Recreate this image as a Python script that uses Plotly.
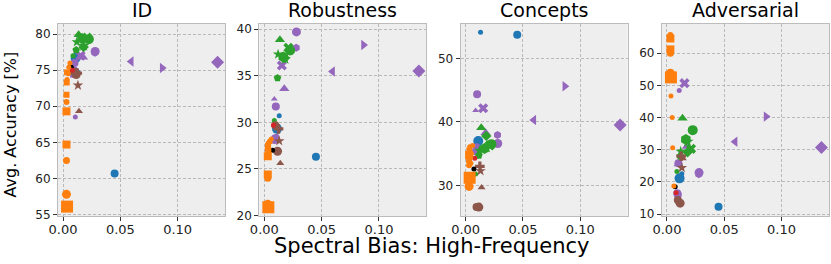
import plotly.graph_objects as go

# ---------------- data ----------------
panel_titles = ["ID", "Robustness", "Concepts", "Adversarial"]
x_tick_vals = [0.0, 0.05, 0.10]
x_tick_text = ["0.00", "0.05", "0.10"]

model_names = [
    "P1", "P2", "P3", "B1", "B2", "B3", "P4", "P5", "P6", "P7", "P8", "P9", "P10", "P11", "P12",
    "G1", "G2", "G3", "G4", "G5", "G6", "G7", "G8", "G9",
    "Br1", "Br2", "Br3", "Br4", "Br5", "K1", "R1",
    "O1", "O2", "O3", "O4", "O5", "O6", "O7", "O8", "O9", "O10", "O11", "O12", "O13",
]
spectral_hf = [
    0.1348, 0.0865, 0.0595, 0.0450, 0.0130, 0.0110, 0.0280, 0.0278, 0.0153, 0.0174, 0.0087, 0.0100, 0.0107, 0.0090, 0.0095,
    0.0136, 0.0210, 0.0225, 0.0165, 0.0180, 0.0180, 0.0115, 0.0087, 0.0120,
    0.0130, 0.0139, 0.0115, 0.0095, 0.0124, 0.0072, 0.0080,
    0.0035, 0.0030, 0.0030, 0.0030, 0.0030, 0.0030, 0.0030, 0.0032, 0.0035, 0.0046, 0.0050, 0.0060, 0.0035,
]
acc_id = [
    76.1, 75.3, 76.2, 60.7, 74.7, 76.7, 77.6, 77.4, 77.0, 76.8, 74.2, 76.0, 68.5, 74.5, 75.0,
    79.9, 79.5, 79.3, 79.4, 78.4, 78.2, 77.8, 77.0, 78.9,
    72.9, 69.3, 74.4, 74.8, 74.6, 75.4, 75.0,
    56.1, 57.8, 62.5, 64.7, 69.3, 70.6, 71.6, 73.3, 73.7, 74.5, 75.4, 76.0, 74.7,
]
acc_rob = [
    35.5, 38.3, 35.45, 26.3, 30.7, 29.3, 39.7, 38.0, 36.1, 33.6, 32.5, 31.7, 28.5, 28.1, 28.3,
    38.85, 38.0, 37.7, 37.0, 36.8, 36.9, 34.75, 30.2, 37.3,
    28.0, 25.6, 26.9, 29.7, 29.3, 27.0, 29.7,
    20.9, 21.2, 24.0, 24.4, 26.35, 26.6, 27.2, 27.5, 27.8, 28.0, 27.9, 28.2, 27.0,
]
acc_concepts = [
    39.5, 45.6, 40.3, 53.7, 54.1, 37.0, 36.6, 37.95, 42.15, 38.3, 41.8, 44.35, 35.4, 35.4, 36.0,
    39.1, 36.3, 36.5, 35.8, 36.0, 37.8, 34.7, 31.8, 35.5,
    32.3, 29.7, 26.6, 26.6, 33.0, 32.6, 34.3,
    31.2, 29.85, 30.8, 31.0, 34.8, 33.2, 34.0, 35.5, 36.1, 33.5, 35.0, 36.3, 34.5,
]
acc_adv = [
    30.7, 40.3, 32.5, 12.3, 22.5, 21.1, 22.9, 22.4, 50.7, 31.0, 25.3, 25.8, 48.4, 16.5, 16.0,
    39.8, 30.3, 36.1, 33.2, 32.5, 29.2, 28.0, 23.2, 29.5,
    24.4, 27.3, 13.4, 14.4, 28.0, 18.5, 16.6,
    52.5, 53.8, 60.0, 61.2, 64.6, 65.7, 53.0, 60.5, 46.7, 40.0, 30.6, 18.7, 52.8,
]

# ---------------- styles ----------------
BLUE, ORANGE, GREEN, RED, PURPLE, BROWN, BLACK = (
    "#1f77b4", "#ff7f0e", "#2ca02c", "#d62728", "#9467bd", "#8c564b", "#000000")
model_colors = (
    [PURPLE, PURPLE, PURPLE, BLUE, BLUE, BLUE] + [PURPLE] * 9 + [GREEN] * 9 +
    [BROWN] * 5 + [BLACK, RED] + [ORANGE] * 13
)
model_symbols = [
    "diamond", "triangle-right", "triangle-left", "circle", "circle", "circle", "circle", "hexagon",
    "x", "triangle-up", "triangle-up", "circle", "circle", "circle", "circle",
    "triangle-up", "x", "circle", "hexagon", "star", "diamond", "pentagon", "circle", "star",
    "star", "triangle-up", "circle", "circle", "cross", "circle", "circle",
    "square", "circle", "circle", "square", "square", "circle", "square", "square", "circle",
    "circle", "circle", "circle", "square",
]
model_sizes = [
    10, 9, 9, 8, 5, 10, 9, 8, 9, 9, 6, 8, 5, 8, 8,
    9, 9, 10, 11, 9, 8, 8, 5, 8,
    8, 7, 9, 8, 8, 5, 5,
    12, 9, 7, 8, 8, 6, 6, 6, 5, 5, 5, 5, 6,
]

panel_values = [acc_id, acc_rob, acc_concepts, acc_adv]
y_ranges = [[54.8, 81.4], [19.95, 40.55], [25.2, 55.4], [9.4, 69.1]]
y_dticks = [5, 5, 10, 10]
x_range = [-0.0044, 0.1413]

# ---------------- figure ----------------
W, H = 831, 264
ML, MR, MT, MB = 58, 2, 24, 48
PW = W - ML - MR
PH = H - MT - MB
panel_w, gap = 167, 34.3
FONT = "DejaVu Sans"

fig = go.Figure()
for p, vals in enumerate(panel_values):
    suffix = "" if p == 0 else str(p + 1)
    fig.add_trace(go.Scatter(
        x=spectral_hf, y=vals, mode="markers",
        marker=dict(color=model_colors, symbol=model_symbols, size=model_sizes,
                    line=dict(width=0), opacity=1),
        xaxis="x" + suffix, yaxis="y" + suffix, showlegend=False,
        hovertext=model_names,
    ))
    x0 = (p * (panel_w + gap)) / PW
    x1 = min(1.0, (p * (panel_w + gap) + panel_w) / PW)
    axis_common = dict(
        showline=True, linecolor="#bcbcbc", linewidth=1, mirror=True,
        showgrid=True, gridcolor="#b9b9b9", griddash="3px,2px", gridwidth=0.8,
        zeroline=False, ticks="outside", ticklen=4, tickwidth=1, tickcolor="#333333",
        automargin=False,
    )
    fig.layout["xaxis" + suffix] = dict(
        axis_common, domain=[x0, x1], range=x_range, anchor="y" + suffix,
        tickvals=x_tick_vals, ticktext=x_tick_text, ticklabelstandoff=-3,
        tickfont=dict(family=FONT, size=13, color="#222222"),
    )
    fig.layout["yaxis" + suffix] = dict(
        axis_common, domain=[0, 1], range=y_ranges[p], anchor="x" + suffix,
        dtick=y_dticks[p], tick0=0,
        tickfont=dict(family=FONT, size=12, color="#222222"),
    )
    fig.add_annotation(
        text=panel_titles[p], xref="paper", yref="paper",
        x=(x0 + x1) / 2, y=1, xanchor="center", yanchor="bottom", yshift=1,
        showarrow=False, font=dict(family=FONT, size=19, color="#000000"),
    )

fig.add_annotation(
    text="Spectral Bias: High-Frequency", xref="paper", yref="paper",
    x=(431.7 - ML) / PW, y=-(246 - (H - MB)) / PH, xanchor="center", yanchor="middle",
    showarrow=False, font=dict(family=FONT, size=21, color="#000000"),
)
fig.add_annotation(
    text="Avg. Accuracy [%]", xref="paper", yref="paper",
    x=(9.5 - ML) / PW, y=(H - MB - 125) / PH, xanchor="center", yanchor="middle",
    textangle=-90, showarrow=False, font=dict(family=FONT, size=16, color="#000000"),
)

fig.update_layout(
    width=W, height=H, margin=dict(l=ML, r=MR, t=MT, b=MB, autoexpand=False),
    paper_bgcolor="white", plot_bgcolor="#eeeeee",
    font=dict(family=FONT),
)
fig.write_html("out.html", config={"displayModeBar": False},
               post_script="document.body.style.margin='0px';")
